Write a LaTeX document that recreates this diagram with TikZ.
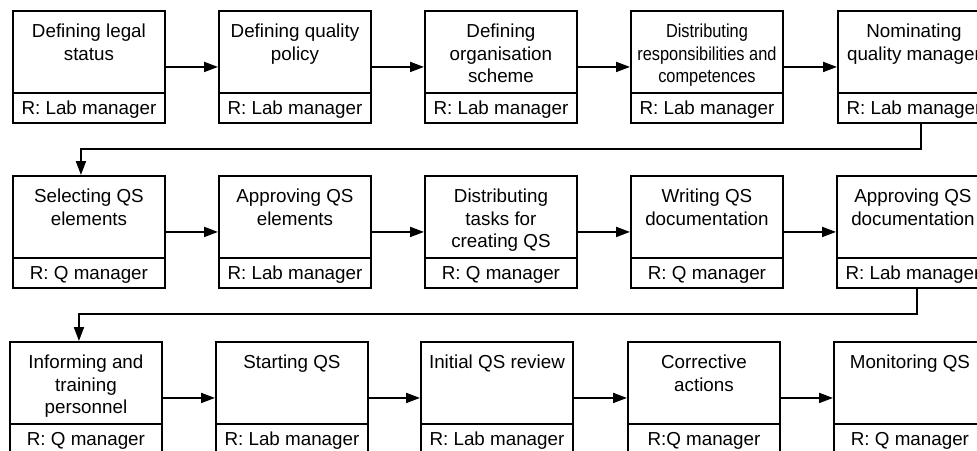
\documentclass[tikz,border=0pt]{standalone}
\usepackage{fontspec}
\setmainfont{Liberation Sans}
\newfontfamily\condfont[FakeStretch=0.87]{Liberation Sans}
\usetikzlibrary{arrows.meta}
\newcommand\firstln{\rule{0pt}{14pt}}
\begin{document}
\begin{tikzpicture}[x=1pt,y=-1pt,
  box/.style={draw, line width=1.9pt, minimum width=152pt, minimum height=112pt, inner sep=0pt, anchor=north west},
  head/.style={anchor=north, inner sep=0pt, align=center, font=\fontsize{18.8}{22.5}\selectfont},
  headc/.style={head, font=\condfont\fontsize{18.8}{22.5}\selectfont},
  lab/.style={draw, line width=1.9pt, minimum width=152pt, minimum height=30pt, inner sep=0pt, anchor=south, text height=13.5pt, text depth=0pt, font=\fontsize{18.8}{22.5}\selectfont},
  arr/.style={line width=1.9pt, -{Triangle[length=14pt,width=10pt]}}
]
\useasboundingbox (0,0) rectangle (977,450);
\clip (0,0) rectangle (977,450);

% Row 1
\node[box] (b11) at (12,10) {};
\node[box] (b12) at (218,10) {};
\node[box] (b13) at (424,10) {};
\node[box] (b14) at (630,10) {};
\node[box] (b15) at (837,10) {};
% Row 2
\node[box] (b21) at (12,175) {};
\node[box] (b22) at (218,175) {};
\node[box] (b23) at (424,175) {};
\node[box] (b24) at (630,175) {};
\node[box] (b25) at (836,175) {};
% Row 3
\node[box] (b31) at (9,341) {};
\node[box] (b32) at (215,341) {};
\node[box] (b33) at (420,341) {};
\node[box] (b34) at (627,341) {};
\node[box] (b35) at (833,341) {};

% Headings
\node[head]  (h11) at ([yshift=-13.5pt]b11.north) {\firstln Defining legal\\status};
\node[head]  (h12) at ([yshift=-13.5pt]b12.north) {\firstln Defining quality\\policy};
\node[head]  (h13) at ([yshift=-13.5pt]b13.north) {\firstln Defining\\organisation\\scheme};
\node[headc] (h14) at ([yshift=-13.5pt]b14.north) {\firstln Distributing\\responsibilities and\\competences};
\node[head]  (h15) at ([yshift=-13.5pt]b15.north) {\firstln Nominating\\quality manager};

\node[head]  (h21) at ([yshift=-13.5pt]b21.north) {\firstln Selecting QS\\elements};
\node[head]  (h22) at ([yshift=-13.5pt]b22.north) {\firstln Approving QS\\elements};
\node[head]  (h23) at ([yshift=-13.5pt]b23.north) {\firstln Distributing\\tasks for\\creating QS};
\node[head]  (h24) at ([yshift=-13.5pt]b24.north) {\firstln Writing QS\\documentation};
\node[head]  (h25) at ([yshift=-13.5pt]b25.north) {\firstln Approving QS\\documentation};

\node[head]  (h31) at ([yshift=-13.5pt]b31.north) {\firstln Informing and\\training\\personnel};
\node[head]  (h32) at ([yshift=-13.5pt]b32.north) {\firstln Starting QS};
\node[head]  (h33) at ([yshift=-13.5pt]b33.north) {\firstln Initial QS review};
\node[head]  (h34) at ([yshift=-13.5pt]b34.north) {\firstln Corrective\\actions};
\node[head]  (h35) at ([yshift=-13.5pt]b35.north) {\firstln Monitoring QS};

% Responsibility labels
\node[lab] (r11) at (b11.south) {R: Lab manager};
\node[lab] (r12) at (b12.south) {R: Lab manager};
\node[lab] (r13) at (b13.south) {R: Lab manager};
\node[lab] (r14) at (b14.south) {R: Lab manager};
\node[lab] (r15) at (b15.south) {R: Lab manager};

\node[lab] (r21) at (b21.south) {R: Q manager};
\node[lab] (r22) at (b22.south) {R: Lab manager};
\node[lab] (r23) at (b23.south) {R: Q manager};
\node[lab] (r24) at (b24.south) {R: Q manager};
\node[lab] (r25) at (b25.south) {R: Lab manager};

\node[lab] (r31) at (b31.south) {R: Q manager};
\node[lab] (r32) at (b32.south) {R: Lab manager};
\node[lab] (r33) at (b33.south) {R: Lab manager};
\node[lab] (r34) at (b34.south) {R:Q manager};
\node[lab] (r35) at (b35.south) {R: Q manager};

% Connectors
\draw[arr] (b11) -- (b12);
\draw[arr] (b12) -- (b13);
\draw[arr] (b13) -- (b14);
\draw[arr] (b14) -- (b15);
\draw[arr] ([xshift=7pt]b15.south) -- ++(0,25) -| ([xshift=-8pt]b21.north);

\draw[arr] (b21) -- (b22);
\draw[arr] (b22) -- (b23);
\draw[arr] (b23) -- (b24);
\draw[arr] (b24) -- (b25);
\draw[arr] ([xshift=4pt]b25.south) -- ++(0,25) -| ([xshift=-7pt]b31.north);

\draw[arr] (b31) -- (b32);
\draw[arr] (b32) -- (b33);
\draw[arr] (b33) -- (b34);
\draw[arr] (b34) -- (b35);
\end{tikzpicture}
\end{document}
